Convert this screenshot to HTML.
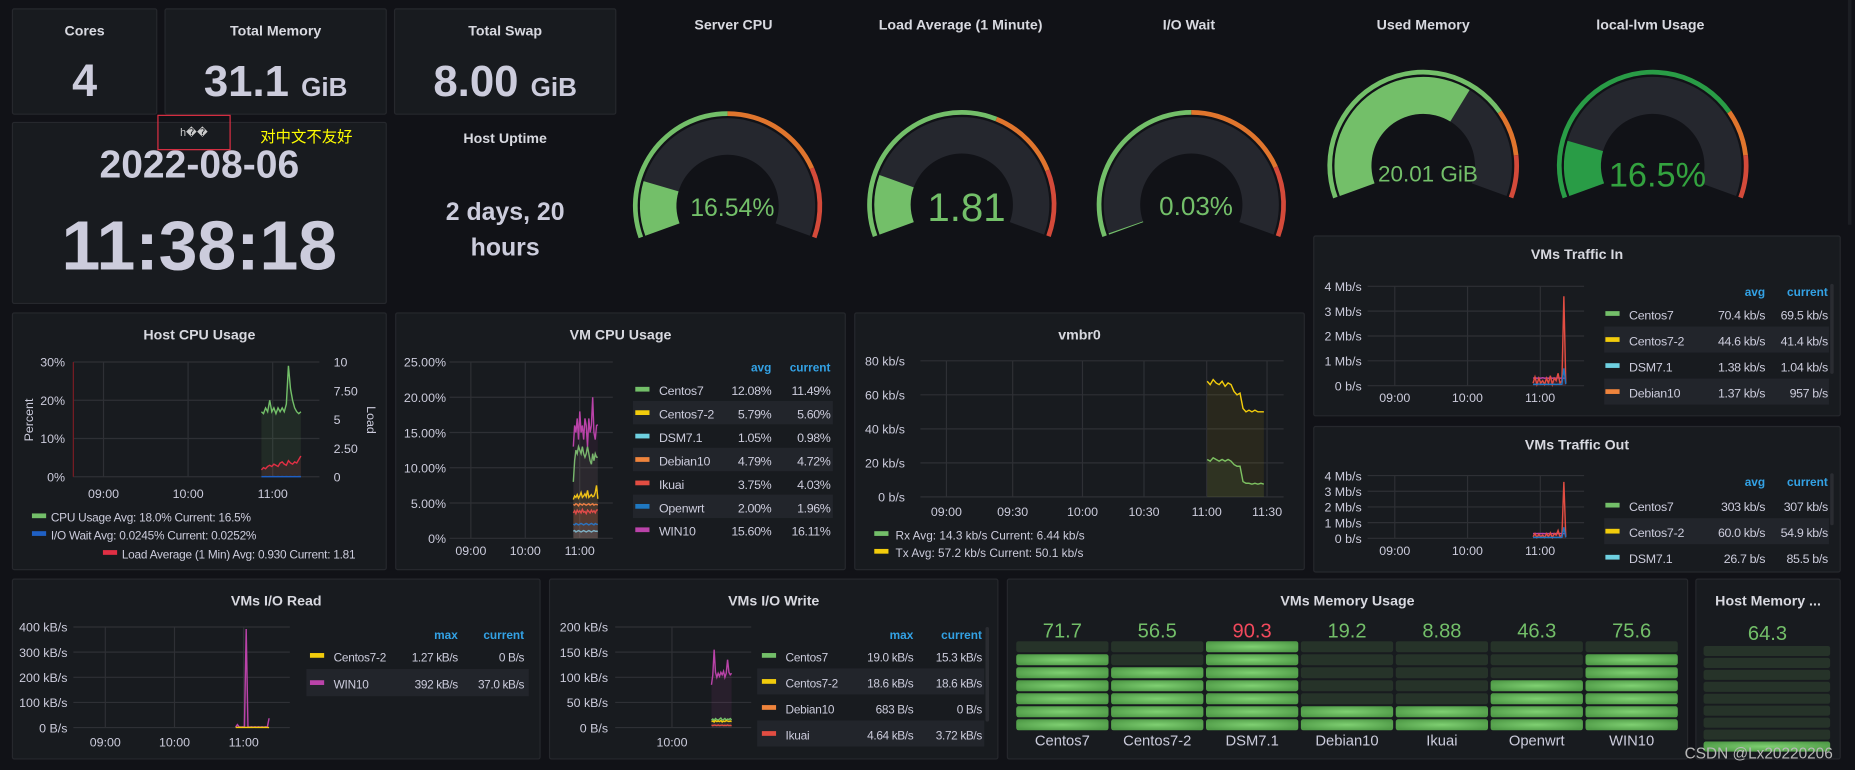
<!DOCTYPE html>
<html><head><meta charset="utf-8">
<style>
html,body{margin:0;padding:0;background:#111217;overflow:hidden;width:1855px;height:770px}
#root{position:absolute;left:0;top:0;width:1568px;height:651px;transform-origin:0 0;transform:scale(1.18304);font-family:"Liberation Sans","Noto Sans CJK SC",sans-serif;color:#ccccdc}
.panel{position:absolute;background:#181b1f;border:1px solid #26282d;border-radius:2px;box-sizing:border-box}
.ptitle{position:absolute;left:0;right:0;top:11px;text-align:center;font-size:12px;font-weight:bold;color:#d8d9e0}
.tt{position:absolute;text-align:center;font-size:12px;font-weight:bold;color:#d8d9e0}
.stat{position:absolute;left:0;right:0;text-align:center;font-weight:bold;color:#ccccdc}
svg text{font-family:"Liberation Sans",sans-serif}
</style></head><body>
<div id="root">
<div class="panel" style="left:10px;top:7px;width:123px;height:90px"><div class="ptitle">Cores</div><div class="stat" style="top:40px;font-size:38px">4</div></div>
<div class="panel" style="left:139px;top:7px;width:188px;height:90px"><div class="ptitle">Total Memory</div><div class="stat" style="top:40px;font-size:37px">31.1 <span style="font-size:22px">GiB</span></div></div>
<div class="panel" style="left:333px;top:7px;width:188px;height:90px"><div class="ptitle">Total Swap</div><div class="stat" style="top:40px;font-size:37px">8.00 <span style="font-size:22px">GiB</span></div></div>
<div class="panel" style="left:10px;top:103px;width:317px;height:154px">
<div class="stat" style="top:16px;font-size:33px">2022-08-06</div>
<div class="stat" style="top:70px;font-size:59px">11:38:18</div></div>
<div style="position:absolute;left:133px;top:97px;width:62px;height:30px;border:1px solid #e02f44;box-sizing:border-box;font-size:9px;color:#ccc;text-align:center;padding-top:9px">h��</div>
<div style="position:absolute;left:220px;top:105px;font-size:13px;color:#ffff00;font-family:'Noto Sans CJK SC',sans-serif">对中文不友好</div>
<div class="tt" style="left:333px;width:188px;top:110px">Host Uptime</div>
<div class="stat" style="left:333px;width:188px;right:auto;top:165px;font-size:21px;line-height:30px">2 days, 20<br>hours</div>
<div class="tt" style="left:545px;width:150px;top:14px">Server CPU</div>
<div class="tt" style="left:732px;width:160px;top:14px">Load Average (1 Minute)</div>
<div class="tt" style="left:930px;width:150px;top:14px">I/O Wait</div>
<div class="tt" style="left:1128px;width:150px;top:14px">Used Memory</div>
<div class="tt" style="left:1320px;width:150px;top:14px">local-lvm Usage</div>
<div class="panel" style="left:1110px;top:199px;width:446px;height:153px"><div class="ptitle" style="top:8px">VMs Traffic In</div></div>
<div class="panel" style="left:1110px;top:360px;width:446px;height:124px"><div class="ptitle" style="top:8px">VMs Traffic Out</div></div>
<div class="panel" style="left:10px;top:264px;width:317px;height:218px"><div class="ptitle">Host CPU Usage</div></div>
<div class="panel" style="left:334px;top:264px;width:381px;height:218px"><div class="ptitle">VM CPU Usage</div></div>
<div class="panel" style="left:722px;top:264px;width:381px;height:218px"><div class="ptitle">vmbr0</div></div>
<div class="panel" style="left:10px;top:489px;width:447px;height:153px"><div class="ptitle">VMs I/O Read</div></div>
<div class="panel" style="left:464px;top:489px;width:380px;height:153px"><div class="ptitle">VMs I/O Write</div></div>
<div class="panel" style="left:851px;top:489px;width:576px;height:153px"><div class="ptitle">VMs Memory Usage</div></div>
<div class="panel" style="left:1433px;top:489px;width:123px;height:153px;overflow:hidden"><div class="ptitle">Host Memory ...</div></div>
<div style="position:absolute;left:1562px;top:0;width:3px;height:190px;background:#1c1e23"></div>
<svg id="charts" width="1568" height="651" style="position:absolute;left:0;top:0"></svg>
<div style="position:absolute;left:1424px;top:629px;font-size:13px;color:#b8b8b8">CSDN @Lx20220206</div>
</div>
<script>
// ---------- data ----------
const gaugeNames=['server-cpu','load-average','io-wait','used-memory','local-lvm'];
const gaugeValues=[16.54,1.81,0.03,20.01,16.5];
const gaugeMax=[100,10,100,31.1,100];
const gaugeLabels=['16.54%','1.81','0.03%','20.01 GiB','16.5%'];
const gaugeOrange=[0.5,0.6,0.5,0.75,0.75];
const gaugeRed=[0.8,0.81,0.8,0.88,0.88];

const hostCpuTicksL=['0%','10%','20%','30%'];
const hostCpuTicksR=['0','2.50','5','7.50','10'];
const hostCpuUsage=[17,16.5,18,17,20,17,18,16.5,18,17,18,17,19,29,23,20,18,17,16.5,17];
const hostIoWait=[0.03,0.02,0.03,0.02,0.03,0.02,0.03,0.02,0.03,0.02,0.03,0.02,0.03,0.02,0.03,0.02,0.03,0.02,0.03,0.03];
const hostLoad=[0.6,0.8,0.7,0.9,1.0,0.9,1.1,1.0,0.9,1.2,1.3,1.1,1.0,1.4,1.2,1.1,1.3,1.2,1.5,1.81];

const vmNames=['Centos7','Centos7-2','DSM7.1','Debian10','Ikuai','Openwrt','WIN10'];
const vmAvg=['12.08%','5.79%','1.05%','4.79%','3.75%','2.00%','15.60%'];
const vmCur=['11.49%','5.60%','0.98%','4.72%','4.03%','1.96%','16.11%'];
const vmCpuCentos7=[8,11,12.5,12,13,12.5,12,13,12,11.5,12,13,12,11,10.5,12,11,12,11.5,11.5];
const vmCpuCentos72=[5.5,6,5.8,6.2,5.7,6,6.5,5.8,6,6.3,5.9,6.8,5.8,6,6.2,5.9,6,6.5,7.5,5.6];
const vmCpuDsm=[1,1.1,0.9,1,1.1,1,0.9,1,1.1,1,0.9,1,1.1,1,0.9,1,1.1,1,1,0.98];
const vmCpuDebian=[4.8,4.7,4.9,4.8,4.6,4.9,4.8,4.7,4.9,4.8,4.7,4.8,4.9,4.7,4.8,4.9,4.7,4.8,4.8,4.72];
const vmCpuIkuai=[3.6,3.9,3.5,4,3.7,3.9,3.6,4.1,3.7,3.8,3.5,4,3.8,3.6,4,3.7,3.9,3.6,4,4.03];
const vmCpuOpenwrt=[2,1.9,2.1,2,1.9,2,2.1,2,1.9,2,2.1,2,1.9,2,2.1,2,1.9,2.1,2,1.96];
const vmCpuWin10=[13,16,15,17,14,18,15,16,14,17,16,13,17,15,16,20,15,14,16,16.1];
const vmCpuTicks=['0%','5.00%','10.00%','15.00%','20.00%','25.00%'];

const netRx=[22,21,23,22,21,22,21,22,21,19,18,18,9,8,8,7.5,8,7.5,8,7.5];
const netTx=[68,66,69,67,66,68,65,67,66,62,60,61,52,50,51,50,51,50,50,50];
const netTicks=['0 b/s','20 kb/s','40 kb/s','60 kb/s','80 kb/s'];

const trafficNames=['Centos7','Centos7-2','DSM7.1','Debian10'];
const trafficInAvg=['70.4 kb/s','44.6 kb/s','1.38 kb/s','1.37 kb/s'];
const trafficInCur=['69.5 kb/s','41.4 kb/s','1.04 kb/s','957 b/s'];
const trafficOutAvg=['303 kb/s','60.0 kb/s','26.7 b/s'];
const trafficOutCur=['307 kb/s','54.9 kb/s','85.5 b/s'];
const trafficTicks=['0 b/s','1 Mb/s','2 Mb/s','3 Mb/s','4 Mb/s'];
const trafficInWin=[0.3,0.32,0.3,0.31,0.3,0.32,0.3,0.31,0.3,0.32,0.3,0.31,0.3,0.32,0.3,0.31,0.3,0.3];
const trafficInIkuai=[0.1,0.35,0.05,0.3,0.1,0.2,0.05,0.3,0.1,0.4,0.05,0.3,0.2,0.5,0.1,0.2,3.6,0.1];
const trafficInOther=[0.05,0.06,0.05,0.07,0.05,0.06,0.05,0.06,0.05,0.06,0.05,0.06,0.05,0.06,0.05,0.06,0.7,0.06];
const trafficOutCentos=[0.3,0.31,0.3,0.31,0.3,0.31,0.3,0.31,0.3,0.31,0.3,0.31,0.3,0.31,0.3,0.31,0.3,0.31];
const trafficOutIkuai=[0.1,0.3,0.05,0.25,0.1,0.2,0.05,0.3,0.1,0.35,0.05,0.3,0.2,0.5,0.1,0.2,3.6,0.1];
const trafficOutOther=[0.05,0.06,0.05,0.07,0.05,0.06,0.05,0.06,0.05,0.06,0.05,0.06,0.05,0.06,0.05,0.06,0.7,0.06];

const ioReadTicks=['0 B/s','100 kB/s','200 kB/s','300 kB/s','400 kB/s'];
const ioReadWin10=[2,12,3,2,3,2,392,3,2,3,2,3,2,3,2,3,2,3,2,37];
const ioReadCentos72=[0.5,1,0.5,1.27,0.5,1,0.5,1,0.5,1,0.5,1,0.5,1,0.5,1,0.5,1,0.5,0];
const ioReadNames=['Centos7-2','WIN10'];
const ioReadMax=['1.27 kB/s','392 kB/s'];
const ioReadCur=['0 B/s','37.0 kB/s'];

const ioWriteTicks=['0 B/s','50 kB/s','100 kB/s','150 kB/s','200 kB/s'];
const ioWriteWin10=[85,105,155,110,100,108,102,110,105,112,100,108,135,110,105,108];
const ioWriteCentos7=[15,17,14,18,16,15,17,19,15,16,18,15,17,16,18,15.3];
const ioWriteCentos72=[12,13,11,14,12,13,12,14,11,13,12,14,13,12,13,12];
const ioWriteIkuai=[5,4,5,4.6,4,5,4,4.5,5,4,4.6,4,5,4,4.5,3.7];
const ioWriteNames=['Centos7','Centos7-2','Debian10','Ikuai'];
const ioWriteMax=['19.0 kB/s','18.6 kB/s','683 B/s','4.64 kB/s'];
const ioWriteCur=['15.3 kB/s','18.6 kB/s','0 B/s','3.72 kB/s'];

const memNames=['Centos7','Centos7-2','DSM7.1','Debian10','Ikuai','Openwrt','WIN10'];
const memValues=[71.7,56.5,90.3,19.2,8.88,46.3,75.6];
const hostMemValue=64.3;

// ---------- helpers ----------
const NS='http://www.w3.org/2000/svg';
const svg=document.getElementById('charts');
function mk(tag,attrs,parent){const e=document.createElementNS(NS,tag);for(const k in attrs)e.setAttribute(k,attrs[k]);(parent||svg).appendChild(e);return e;}
function txt(x,y,s,opt){opt=opt||{};const t=mk('text',{x:x,y:y,fill:opt.fill||'#ccccdc','font-size':opt.size||11,'text-anchor':opt.anchor||'start','font-weight':opt.weight||'normal'});if(opt.ls)t.setAttribute('letter-spacing',opt.ls);t.textContent=s;if(opt.rot)t.setAttribute('transform','rotate('+opt.rot+' '+x+' '+y+')');return t;}

function lin(d0,d1,r0,r1){return v=>r0+(v-d0)/(d1-d0)*(r1-r0);}

function grid(box,nY,xs){
  for(let i=0;i<=nY;i++){const y=box.b-(box.b-box.t)*i/nY;const l=mk('line',{x1:box.l,x2:box.r,y1:y,y2:y,stroke:'#2e3035','stroke-width':1});}
  xs.forEach(x=>{const l=mk('line',{x1:x,x2:x,y1:box.t,y2:box.b,stroke:'#2e3035','stroke-width':1});});
}
function yLabels(box,ticks,x,anchor){ticks.forEach((s,i)=>{const y=box.b-(box.b-box.t)*i/(ticks.length-1);const t=txt(x,y+4,s,{anchor:anchor||'end',size:10.5});});}
function series(vals,t0,t1,xs,ys,color,name,fill,base){
  const n=vals.length;let d='';
  vals.forEach((v,i)=>{const x=xs(t0+(t1-t0)*i/(n-1));d+=(i?'L':'M')+x.toFixed(2)+','+ys(v).toFixed(2);});
  if(fill){const a=mk('path',{d:d+'L'+xs(t1)+','+base+'L'+xs(t0)+','+base+'Z',fill:color,'fill-opacity':fill});}
  const p=mk('path',{d:d,fill:'none',stroke:color,'stroke-width':1.2});
  
  
}
function swatch(x,y,c){const r=mk('rect',{x:x,y:y-3,width:12,height:4,fill:c});}
function band(x,y,w,h){const r=mk('rect',{x:x,y:y,width:w,height:h,fill:'#22252b'});}
function legendTable(cfg){
  const fs=cfg.fs||10.5;
  const h1=txt(cfg.c1,cfg.hy,cfg.h1,{anchor:'end',fill:'#33a2e5',size:10,weight:'bold'});
  const h2=txt(cfg.c2,cfg.hy,'current',{anchor:'end',fill:'#33a2e5',size:10,weight:'bold'});
  cfg.names.forEach((n,i)=>{const y=cfg.y0+i*cfg.dy;
    if(i%2===cfg.bandParity)band(cfg.bx,y-cfg.dy/2-1,cfg.bw,cfg.dy);
    swatch(cfg.sx,y,cfg.colors[i]);
    const a=txt(cfg.sx+20,y+4,n,{size:fs,ls:-0.2});
    const b=txt(cfg.c1,y+4,cfg.v1[i],{anchor:'end',size:fs,ls:-0.3});
    const c=txt(cfg.c2,y+4,cfg.v2[i],{anchor:'end',size:fs,ls:-0.3});
  });
}

// ---------- gauges ----------
const gaugeGeom=[[615,174,80],[813,173,80],[1007,173,80],[1203,140,81],[1397,140,81]];
function pt(cx,cy,r,f){const a=(200-f*220)*Math.PI/180;return[cx+r*Math.cos(a),cy-r*Math.sin(a)];}
function arc(cx,cy,r0,r1,f0,f1){const p0=pt(cx,cy,r1,f0),p1=pt(cx,cy,r1,f1),p2=pt(cx,cy,r0,f1),p3=pt(cx,cy,r0,f0);const lg=(f1-f0)*220>180?1:0;
  return 'M'+p0+' A'+r1+','+r1+' 0 '+lg+' 1 '+p1+' L'+p2+' A'+r0+','+r0+' 0 '+lg+' 0 '+p3+' Z';}
gaugeValues.forEach((v,i)=>{
  const [cx,cy,R]=gaugeGeom[i];
  const g=mk('g',{});
  const gc=i===4?'#299c46':'#73bf69';
  const segs=[[0,gaugeOrange[i],gc],[gaugeOrange[i],gaugeRed[i],'#e0752d'],[gaugeRed[i],1,'#d44a3a']];
  segs.forEach(s=>{const p=mk('path',{d:arc(cx,cy,R-4,R,s[0],s[1]),fill:s[2]},g);});
  const bg=mk('path',{d:arc(cx,cy,R*0.54,R-6,0,1),fill:'#25272e'},g);
  const f=Math.max(0.004,Math.min(1,v/gaugeMax[i]));
  const fp=mk('path',{d:arc(cx,cy,R*0.54,R-6,0,f),fill:gc},g);
  const sizes=[21,34,22,19,29];
  const t=txt(cx+4,cy+sizes[i]*0.4+(i>=3?6:0),gaugeLabels[i],{anchor:'middle',size:sizes[i],fill:i===4?'#33a23f':'#73bf69'});
  
});

// ---------- Host CPU ----------
(function(){
  const box={l:62,r:270,t:306,b:403};
  const xs=lin(540,600,87.5,159);const yl=lin(0,30,box.b,box.t);const yr=lin(0,10,box.b,box.t);
  grid(box,3,[87.5,159,230.5]);
  const ax=mk('line',{x1:box.l,x2:box.l,y1:box.t,y2:box.b,stroke:'#7a1c24'});
  yLabels(box,hostCpuTicksL,55);
  hostCpuTicksR.forEach((s,i)=>{const y=box.b-(box.b-box.t)*i/4;const t=txt(282,y+4,s,{size:10.5});});
  ['09:00','10:00','11:00'].forEach((s,i)=>{const t=txt(87.5+i*71.5,421,s,{anchor:'middle',size:10.5});});
  const p=txt(28,355,'Percent',{anchor:'middle',rot:-90,size:10.5});
  const l=txt(310,355,'Load',{anchor:'middle',rot:90,size:10.5});
  series(hostCpuUsage,652,680,xs,yl,'#73bf69','cpu-usage',0.1,box.b);
  series(hostLoad,652,680,xs,yr,'#e02f44','load-average',0.1,box.b);
  series(hostIoWait,652,680,xs,yl,'#1f60c4','io-wait',0,box.b);
  const L=[['#73bf69','CPU Usage  Avg: 18.0%  Current: 16.5%',43,437],['#1f60c4','I/O Wait  Avg: 0.0245%  Current: 0.0252%',43,452],['#e02f44','Load Average (1 Min)  Avg: 0.930  Current: 1.81',103,468]];
  L.forEach(r=>{swatch(r[2]-16,r[3],r[0]);const t=txt(r[2],r[3]+4,r[1],{size:10,ls:-0.2});});
})();

// ---------- VM CPU ----------
(function(){
  const box={l:380,r:518,t:306,b:455};
  const xs=lin(540,600,398,444);const ys=lin(0,25,box.b,box.t);
  grid(box,5,[398,444,490]);
  yLabels(box,vmCpuTicks,377);
  ['09:00','10:00','11:00'].forEach((s,i)=>{const t=txt(398+i*46,469,s,{anchor:'middle',size:10.5});});
  const cols=['#73bf69','#f2cc0c','#6ed0e0','#ef843c','#e24d42','#1f78c1','#ba43a9'];
  const data=[vmCpuCentos7,vmCpuCentos72,vmCpuDsm,vmCpuDebian,vmCpuIkuai,vmCpuOpenwrt,vmCpuWin10];
  data.forEach((d,i)=>series(d,653,680,xs,ys,cols[i],'vm-cpu-'+vmNames[i].toLowerCase(),0.08,box.b));
  legendTable({names:vmNames,colors:cols,v1:vmAvg,v2:vmCur,h1:'avg',c1:652,c2:702,hy:314,y0:330,dy:19.8,sx:537,bx:535,bw:169,bandParity:1});
})();

// ---------- vmbr0 ----------
(function(){
  const box={l:778,r:1085,t:305,b:420};
  const xs=lin(540,600,800,915);const ys=lin(0,80,box.b,box.t);
  grid(box,4,[800,856,915,967,1020,1071]);
  yLabels(box,netTicks,765);
  ['09:00','09:30','10:00','10:30','11:00','11:30'].forEach((s,i)=>{const x=[800,856,915,967,1020,1071][i];const t=txt(x,436,s,{anchor:'middle',size:10.5});});
  series(netRx,655,680,xs,ys,'#73bf69','rx',0.08,box.b);
  series(netTx,655,680,xs,ys,'#f2cc0c','tx',0.08,box.b);
  swatch(739,452,'#73bf69');let t=txt(757,456,'Rx  Avg: 14.3 kb/s  Current: 6.44 kb/s',{size:10});
  swatch(739,467,'#f2cc0c');t=txt(757,471,'Tx  Avg: 57.2 kb/s  Current: 50.1 kb/s',{size:10});
})();

// ---------- Traffic In / Out ----------
function trafficChart(box,a,b,c,name){
  const xs=lin(540,600,1179,1240.5);const ys=lin(0,4,box.b,box.t);
  grid(box,4,[1179,1240.5,1302]);
  yLabels(box,trafficTicks,1151);
  ['09:00','10:00','11:00'].forEach((s,i)=>{const t=txt(1179+i*61.4,box.b+14,s,{anchor:'middle',size:10.5});});
  series(a,654,681,xs,ys,'#ba43a9',name+'-win10',0.1,box.b);
  series(b,654,681,xs,ys,'#e24d42',name+'-ikuai',0.1,box.b);
  series(c,654,681,xs,ys,'#1f78c1',name+'-openwrt',0,box.b);
}
trafficChart({l:1156,r:1339,t:242,b:326},trafficInWin,trafficInIkuai,trafficInOther,'traffic-in');
legendTable({names:trafficNames,colors:['#73bf69','#f2cc0c','#6ed0e0','#ef843c'],v1:trafficInAvg,v2:trafficInCur,h1:'avg',c1:1492,c2:1545,hy:250,y0:266,dy:22,sx:1357,bx:1356,bw:190,bandParity:1});
trafficChart({l:1156,r:1339,t:402,b:455},trafficOutCentos,trafficOutIkuai,trafficOutOther,'traffic-out');
legendTable({names:trafficNames.slice(0,3),colors:['#73bf69','#f2cc0c','#6ed0e0'],v1:trafficOutAvg,v2:trafficOutCur,h1:'avg',c1:1492,c2:1545,hy:411,y0:428,dy:22,sx:1357,bx:1356,bw:190,bandParity:1});
(function(){const sb=mk('rect',{x:1547,y:240,width:3,height:76,rx:1.5,fill:'#2a2c31'});
const sb2=mk('rect',{x:1547,y:400,width:3,height:44,rx:1.5,fill:'#2a2c31'});})();

// ---------- I/O Read ----------
(function(){
  const box={l:62,r:245,t:530,b:615};
  const xs=lin(540,600,89,147.5);const ys=lin(0,400,box.b,box.t);
  grid(box,4,[89,147.5,206]);
  yLabels(box,ioReadTicks,57);
  ['09:00','10:00','11:00'].forEach((s,i)=>{const t=txt(89+i*58.5,631,s,{anchor:'middle',size:10.5});});
  series(ioReadWin10,653,682,xs,ys,'#ba43a9','io-read-win10',0.1,box.b);
  series(ioReadCentos72,653,682,xs,ys,'#f2cc0c','io-read-centos7-2',0,box.b);
  legendTable({names:ioReadNames,colors:['#f2cc0c','#ba43a9'],v1:ioReadMax,v2:ioReadCur,h1:'max',c1:387,c2:443,hy:540,y0:555,dy:23,sx:262,bx:259,bw:188,bandParity:1,fs:10});
})();

// ---------- I/O Write ----------
(function(){
  const box={l:520,r:635,t:530,b:615};
  const xs=lin(600,660,568,605.8);const ys=lin(0,200,box.b,box.t);
  grid(box,4,[568]);
  yLabels(box,ioWriteTicks,514);
  const t=txt(568,631,'10:00',{anchor:'middle',size:10.5});
  series(ioWriteWin10,653,680,xs,ys,'#ba43a9','io-write-win10',0.1,box.b);
  series(ioWriteCentos7,653,680,xs,ys,'#73bf69','io-write-centos7',0.1,box.b);
  series(ioWriteCentos72,653,680,xs,ys,'#f2cc0c','io-write-centos7-2',0,box.b);
  series(ioWriteIkuai,653,680,xs,ys,'#e24d42','io-write-ikuai',0,box.b);
  legendTable({names:ioWriteNames,colors:['#73bf69','#f2cc0c','#ef843c','#e24d42'],v1:ioWriteMax,v2:ioWriteCur,h1:'max',c1:772,c2:830,hy:540,y0:555,dy:22,sx:644,bx:640,bw:192,bandParity:1,fs:10});
  const sb=mk('rect',{x:833,y:530,width:3,height:80,rx:1.5,fill:'#2a2c31'});
})();

// ---------- VMs memory bar gauges ----------
const defs=mk('defs',{});
const lg=mk('radialGradient',{id:'litg',cx:'50%',cy:'50%',r:'60%'},defs);
mk('stop',{offset:'0%','stop-color':'#7fd072'},lg);mk('stop',{offset:'100%','stop-color':'#4f9a47'},lg);
memValues.forEach((v,i)=>{
  const x=859+i*80.2;
  const lit=Math.min(7,Math.round(v*7/100)+1);
  const vt=txt(x+39,539,String(v),{anchor:'middle',size:17,fill:v>=85?'#f2495c':'#73bf69'});
  
  for(let k=0;k<7;k++){
    const y=542+k*11;const on=(7-k)<=lit;
    const r=mk('rect',{x:x,y:y,width:78,height:9.3,rx:2,fill:on?'url(#litg)':'#263329'});
    
    
  }
  const lt=txt(x+39,630,memNames[i],{anchor:'middle',size:12.5});
  
});
(function(){
  const vt=txt(1494,541,String(hostMemValue),{anchor:'middle',size:17,fill:'#73bf69'});
  
  const litCount=Math.max(1,Math.round(hostMemValue/100*9)-5);
  for(let k=0;k<9;k++){
    const y=546+k*10.1;if(y>640)break;const on=(9-k)<=litCount;
    const r=mk('rect',{x:1440,y:y,width:107,height:Math.min(8.5,640-y),rx:2,fill:on?'url(#litg)':'#263329'});
    
    
  }
})();
</script>
</body></html>
